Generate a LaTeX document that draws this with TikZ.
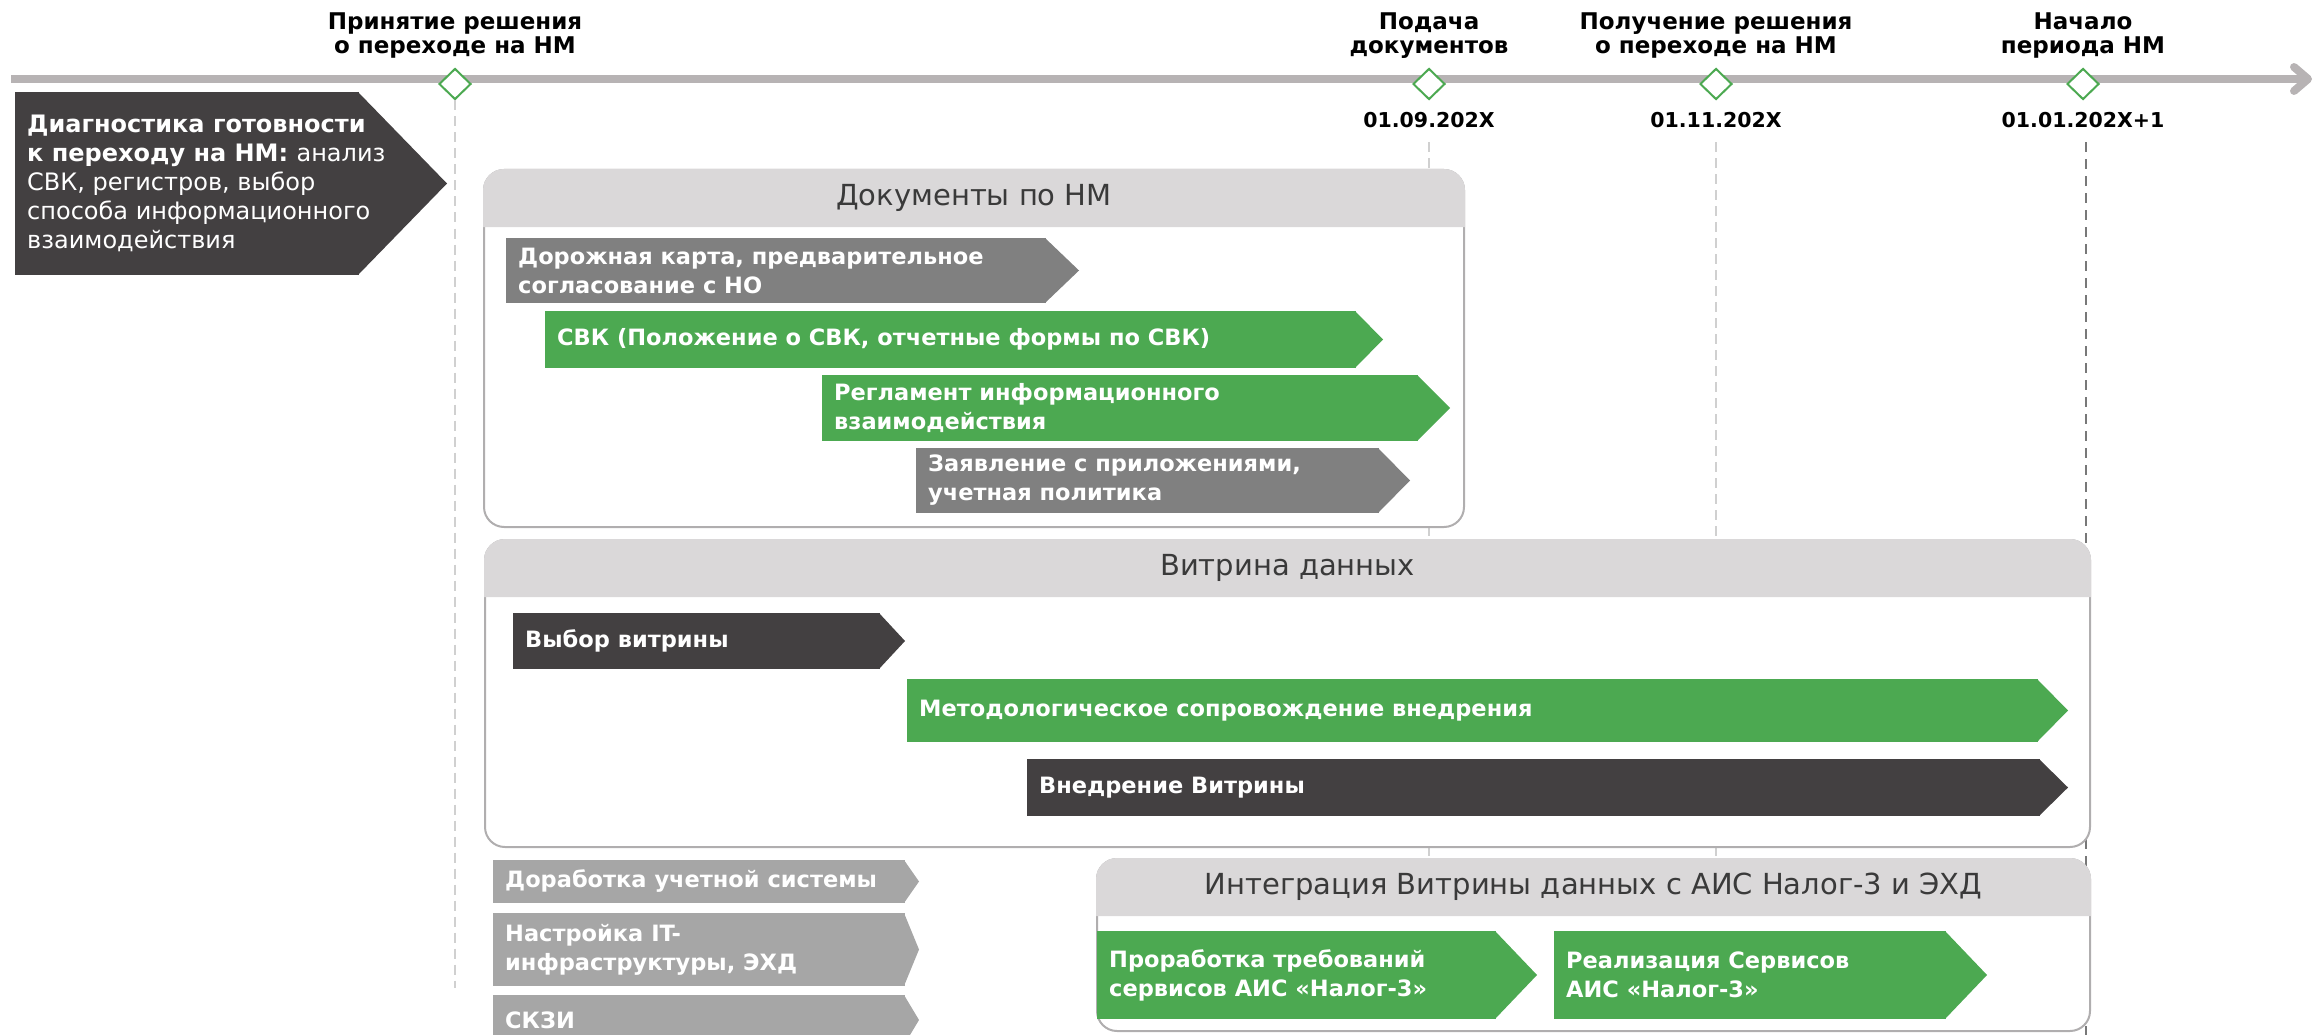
\documentclass[tikz,border=0pt]{standalone}
\usepackage{fontspec}
\setmainfont{DejaVu Sans}
\usetikzlibrary{shapes,arrows.meta,positioning}
\definecolor{axisgray}{RGB}{183,179,180}
\definecolor{nmgreen}{RGB}{76,169,81}
\definecolor{nmdark}{RGB}{67,64,65}
\definecolor{nmgray}{RGB}{128,128,128}
\definecolor{nmlight}{RGB}{166,166,166}
\definecolor{headfill}{RGB}{218,216,217}
\definecolor{panelline}{RGB}{176,174,175}
\definecolor{titletext}{RGB}{58,58,58}
\definecolor{guidegray}{RGB}{208,208,208}
\definecolor{guidedark}{RGB}{120,120,120}
\tikzstyle{milestone} = [draw=nmgreen,fill=white,line width=2pt,diamond,inner sep=0,minimum width=32pt,minimum height=31pt]
\tikzstyle{event} = [align=center,inner sep=0,font=\bfseries\fontsize{23}{24}\selectfont]
\tikzstyle{datelabel} = [inner sep=0,font=\bfseries\fontsize{20.5}{24}\selectfont]
\tikzstyle{guide} = [guidegray,line width=1.5pt,dash pattern=on 10pt off 6pt]
\tikzstyle{guidelast} = [guidedark,line width=2pt,dash pattern=on 10pt off 7pt]
\tikzstyle{stage} = [rectangle,anchor=north west,inner sep=0,outer sep=0]
\tikzstyle{stagetext} = [inner sep=0,align=left,text=white,font=\bfseries\fontsize{22.5}{29}\selectfont]
\tikzstyle{panel} = [rectangle,draw=panelline,line width=2pt,fill=white,rounded corners=20pt,anchor=north west,inner sep=0,outer sep=0]
\tikzstyle{paneltitle} = [inner sep=0,text=titletext,font=\fontsize{29}{30}\selectfont]
\def \hh {56}
\def \pad {12pt}
% bar with a pointed end: [text options] name, colour, x, y, width, height, tip, text
\newcommand{\stagebar}[9][]{%
  \node[stage,fill=#3,minimum width=#6pt,minimum height=#7pt] (#2) at (#4,#5) {};
  \fill[#3] ([xshift=-1pt]#2.north east) -- ([xshift=#8pt]#2.east) -- ([xshift=-1pt]#2.south east) -- cycle;
  \node[stagetext,right=\pad of #2.west,#1] (#2text) {#9};}
% rounded panel with grey header: name, x, y, width, height, title
\newcommand{\nmpanel}[6]{%
  \node[panel,minimum width=#4pt,minimum height=#5pt] (#1) at (#2,#3) {};
  \filldraw[headfill,line width=2pt] ([yshift=-\hh pt]#1.north west) [rounded corners=20pt] -- (#1.north west) -- (#1.north east) [sharp corners] -- ([yshift=-\hh pt]#1.north east) -- cycle;
  \node[paneltitle] (#1title) at ([yshift=-28pt]#1.north) {#6};}

\begin{document}
\begin{tikzpicture}[x=1pt,y=-1pt]
  \useasboundingbox (0,0) rectangle (2315,1035);
  \clip (0,0) rectangle (2315,1035);
  % time axis
  \coordinate (axstart) at (11,79);
  \coordinate (axend) at (2312,79);
  \draw[axisgray,line width=8pt,-{Straight Barb[length=14pt,width=24pt,round]}] (axstart) -- (axend);
  \node[milestone] (dm1) at (455,84) {};
  \node[milestone] (dm2) at (1429,84) {};
  \node[milestone] (dm3) at (1716,84) {};
  \node[milestone] (dm4) at (2083,84) {};
  \node[event,above=9pt of dm1] (ev1) {Принятие решения\\о переходе на НМ};
  \node[event,above=9pt of dm2] (ev2) {Подача\\документов};
  \node[event,above=9pt of dm3] (ev3) {Получение решения\\о переходе на НМ};
  \node[event,above=9pt of dm4] (ev4) {Начало\\периода НМ};
  \node[datelabel,below=12pt of dm2] (dt2) {01.09.202X};
  \node[datelabel,below=12pt of dm3] (dt3) {01.11.202X};
  \node[datelabel,below=12pt of dm4] (dt4) {01.01.202X+1};
  % guides
  \coordinate (g1end) at (455,988);
  \coordinate (g2end) at (1429,1035);
  \coordinate (g3end) at (1716,1035);
  \coordinate (g4end) at (2086,1035);
  \draw[guide] (dm1.south) -- (g1end);
  \draw[guide] ([yshift=-14pt]dt2.south) -- (g2end);
  \draw[guide] ([yshift=-14pt]dt3.south) -- (g3end);
  \draw[guidelast] ([yshift=-14pt]dt4.south -| g4end) -- (g4end);
  % diagnostics
  \stagebar[font=\bfseries\fontsize{24}{29}\selectfont]{diag}{nmdark}{15}{92}{344}{183}{88}{Диагностика готовности\\к переходу на НМ: \mdseries анализ\\\mdseries СВК, регистров, выбор\\\mdseries способа информационного\\\mdseries взаимодействия}
  % documents
  \nmpanel{docs}{484}{170}{980}{357}{Документы по НМ}
  \stagebar{roadmap}{nmgray}{506}{238}{540}{65}{33}{Дорожная карта, предварительное\\согласование с НО}
  \stagebar{svk}{nmgreen}{545}{311}{811}{57}{27}{СВК (Положение о СВК, отчетные формы по СВК)}
  \stagebar{reglament}{nmgreen}{822}{375}{596}{66}{32}{Регламент информационного\\взаимодействия}
  \stagebar{statement}{nmgray}{916}{448}{463}{65}{31}{Заявление с приложениями,\\учетная политика}
  % data mart
  \nmpanel{mart}{485}{540}{1605}{307}{Витрина данных}
  \stagebar{choice}{nmdark}{513}{613}{367}{56}{25}{Выбор витрины}
  \stagebar{method}{nmgreen}{907}{679}{1131}{63}{30}{Методологическое сопровождение внедрения}
  \stagebar{rollout}{nmdark}{1027}{759}{1013}{57}{28}{Внедрение Витрины}
  % IT
  \stagebar{erp}{nmlight}{493}{860}{412}{43}{14}{Доработка учетной системы}
  \stagebar{infra}{nmlight}{493}{913}{412}{73}{14}{Настройка IT-\\инфраструктуры, ЭХД}
  \stagebar{skzi}{nmlight}{493}{995}{412}{50}{14}{СКЗИ}
  % integration
  \nmpanel{integr}{1097}{859}{993}{172}{Интеграция Витрины данных с АИС Налог-3 и ЭХД}
  \stagebar{reqs}{nmgreen}{1097}{931}{399}{88}{41}{Проработка требований\\сервисов АИС «Налог-3»}
  \stagebar{services}{nmgreen}{1554}{931}{392}{88}{41}{Реализация Сервисов\\АИС «Налог-3»}
\end{tikzpicture}
\end{document}
